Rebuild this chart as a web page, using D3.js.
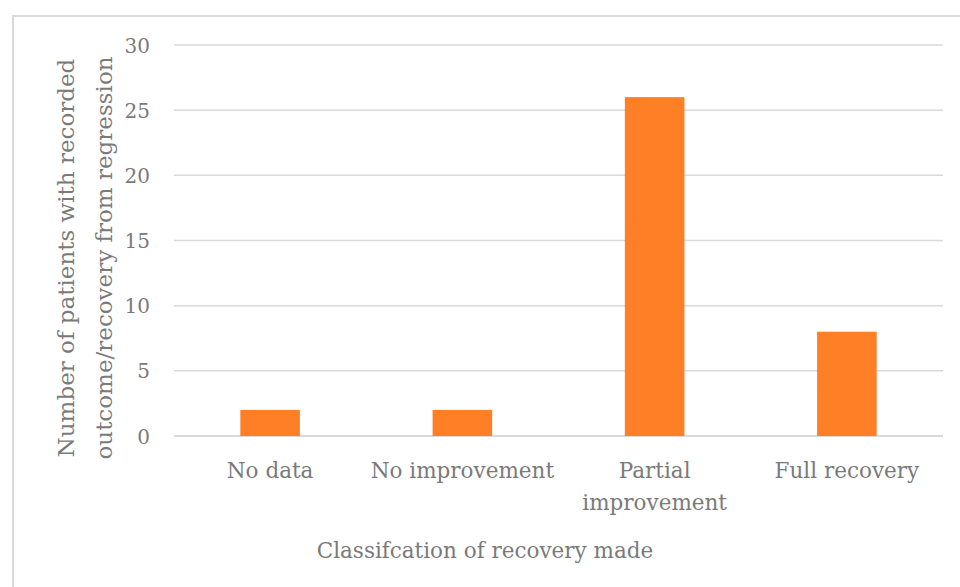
<!DOCTYPE html>
<html>
<head>
<meta charset="utf-8">
<script src="https://cdn.jsdelivr.net/npm/d3@7"></script>
<style>
  body { margin: 0; background: #fff; }
  text { font-family: "DejaVu Serif", serif; fill: #7a7a7a; }
</style>
</head>
<body>
<script>
var categories = ["No data", "No improvement", "Partial improvement", "Full recovery"];
var patients = [2, 2, 26, 8];
var yTicks = [0, 5, 10, 15, 20, 25, 30];

var width = 960, height = 587;
var margin = {left: 174, right: 17, top: 45, bottom: 151};

var svg = d3.select("body").append("svg")
    .attr("width", width)
    .attr("height", height);

// chart frame
svg.append("rect")
    .attr("x", 13).attr("y", 16)
    .attr("width", 1000).attr("height", 1000)
    .attr("fill", "none")
    .attr("stroke", "#d9d9d9")
    .attr("stroke-width", 2);

var x = d3.scaleBand()
    .domain(categories)
    .range([margin.left, width - margin.right])
    .paddingInner(0.69)
    .paddingOuter(0.345);

var y = d3.scaleLinear()
    .domain([0, 30])
    .range([height - margin.bottom, margin.top]);

// grid
svg.append("g")
    .selectAll("line")
    .data(yTicks)
    .enter()
        .append("line")
        .attr("x1", margin.left)
        .attr("x2", width - margin.right)
        .attr("y1", d => y(d))
        .attr("y2", d => y(d))
        .attr("stroke", "#d9d9d9")
        .attr("stroke-width", d => d == 0 ? 2 : 1.5);

var yAxis = d3.axisLeft(y).tickValues(yTicks).tickSize(0).tickPadding(0);
var gy = svg.append("g")
    .attr("transform", "translate(150,0)")
    .call(yAxis);
gy.select(".domain").remove();
gy.selectAll("text").style("font-size", "20px").attr("dy", "0.35em");

svg.append("g")
    .selectAll("rect")
    .data(patients)
    .enter()
        .append("rect")
        .attr("x", (d, i) => x(categories[i]))
        .attr("width", x.bandwidth())
        .attr("y", d => y(d))
        .attr("height", d => y(0) - y(d))
        .attr("fill", "#ff7f27");

// x labels, wrapped like the original
var xLines = {"Partial improvement": ["Partial", "improvement"]};
var gx = svg.append("g");
categories.forEach(c => {
    var lines = xLines[c] || [c];
    lines.forEach((l, j) => {
        gx.append("text")
            .attr("x", x(c) + x.bandwidth() / 2)
            .attr("y", 478 + j * 32)
            .attr("text-anchor", "middle")
            .style("font-size", "21.5px")
            .text(l);
    });
});

svg.append("text")
    .attr("x", 485)
    .attr("y", 558)
    .attr("text-anchor", "middle")
    .style("font-size", "21.5px")
    .text("Classifcation of recovery made");

var yTitle = svg.append("text")
    .attr("transform", "translate(0,258) rotate(-90)")
    .attr("text-anchor", "middle")
    .style("font-size", "23px");
yTitle.append("tspan").attr("x", 0).attr("y", 74).text("Number of patients with recorded");
yTitle.append("tspan").attr("x", 0).attr("y", 112).text("outcome/recovery from regression");
</script>
</body>
</html>
